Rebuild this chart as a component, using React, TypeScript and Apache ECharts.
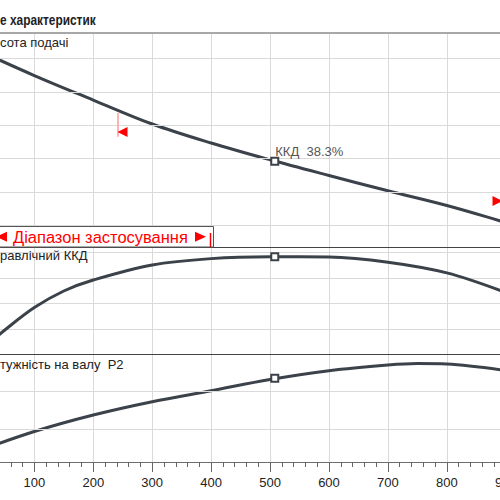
import React, { useEffect, useRef } from "react";
import * as echarts from "echarts";

// Flow (x) axis ticks
const flowTicks = [0, 100, 200, 300, 400, 500, 600, 700, 800, 900, 1000];

// Head curve ("Висота подачі")
const headFlow = [0, 100, 200, 300, 400, 500, 600, 700, 800, 900, 1000];
const headValues = [7.278, 6.486, 5.754, 5.038, 4.47, 3.968, 3.499, 3.042, 2.603, 2.096, 1.588];
const headGridLines = [2, 3, 4, 5, 6, 7];

// Hydraulic efficiency curve ("Гідравлічний ККД"), %
const effFlow = [0, 50, 100, 150, 200, 300, 400, 500, 600, 700, 800, 900];
const effValues = [0, 9.6, 18.4, 24.9, 29.2, 35.1, 37.6, 38.3, 38.2, 36.2, 32.0, 24.3];

// Shaft power curve ("Потужність на валу P2")
const powerFlow = [0, 100, 200, 300, 400, 500, 600, 700, 750, 800, 900];
const powerValues = [0.395, 0.934, 1.368, 1.718, 2.008, 2.303, 2.534, 2.684, 2.724, 2.711, 2.539];
const powerGridLines = [1, 2];

// Duty point
const dutyFlow = [508];
const dutyHead = [3.924];
const dutyEff = [38.3];
const dutyPower = [2.334];
const dutyLabel = ["ККД  38.3%"];

// Operating range markers
const rangeMinFlow = [241];
const rangeMinLine = [5.366, 4.658];
const rangeMinTriangle = [249.6, 4.8];
const rangeMaxTriangle = [886, 2.738];

const FONT = '"Liberation Sans", Arial, sans-serif';
const CURVE = "#3c424a";
const GRIDC = "#dadada";
const RED = "#ff0000";

const pairs = (xs: number[], ys: number[]) => xs.map((x, i) => [x, ys[i]]);

export default function App() {
  const ref = useRef<HTMLDivElement>(null);
  useEffect(() => {
    if (!ref.current) return;
    const chart = echarts.init(ref.current, null, { renderer: "svg" });
    const gridBase = { left: -24.6, width: 589.3, containLabel: false, outerBoundsMode: "none" } as any;
    const xBase = (gi: number, bottom: boolean) => ({
      type: "value",
      gridIndex: gi,
      min: flowTicks[0],
      max: flowTicks[flowTicks.length - 1],
      interval: 100,
      splitLine: { show: true, lineStyle: { color: GRIDC, width: 1 } },
      axisLine: { show: true, onZero: false, lineStyle: { color: bottom ? "#6e6e6e" : "#444", width: 1 } },
      axisTick: { show: bottom, length: 10, lineStyle: { color: "#666" } },
      minorTick: { show: bottom, splitNumber: 5, length: 5, lineStyle: { color: "#666" } },
      axisLabel: {
        show: bottom,
        margin: 14,
        fontSize: 13,
        color: "#222",
        fontFamily: FONT,
        showMinLabel: false,
        showMaxLabel: false,
      },
    });
    const yBase = (gi: number, min: number, max: number, interval: number, split: boolean) => ({
      type: "value",
      gridIndex: gi,
      min,
      max,
      interval,
      axisLine: { show: false },
      axisTick: { show: false },
      axisLabel: { show: false },
      splitLine: { show: split, lineStyle: { color: GRIDC, width: 1 } },
    });
    const squareItem = (x: number, y: number, label?: string) => ({
      coord: [x, y],
      symbol: "rect",
      symbolSize: 7,
      itemStyle: { color: "#fff", borderColor: CURVE, borderWidth: 2 },
      label: label
        ? { show: true, formatter: label, position: [5, -12], fontSize: 13, color: "#555", fontFamily: FONT }
        : { show: false },
    });
    const lineSeries = (i: number, data: number[][], extra: any) => ({
      type: "line",
      xAxisIndex: i,
      yAxisIndex: i,
      data,
      smooth: 0.35,
      symbol: "none",
      showSymbol: false,
      lineStyle: { color: CURVE, width: 3 },
      z: 3,
      ...extra,
    });
    const gridLineSeries = (i: number, values: number[]) => ({
      type: "line",
      xAxisIndex: i,
      yAxisIndex: i,
      data: [],
      z: 1,
      silent: true,
      markLine: {
        silent: true,
        symbol: ["none", "none"],
        label: { show: false },
        lineStyle: { color: GRIDC, width: 1, type: "solid" },
        data: values.map((v) => ({ yAxis: v })),
      },
    });

    chart.setOption({
      animation: false,
      grid: [
        { ...gridBase, top: 33, height: 214 },
        { ...gridBase, top: 247, height: 107.5 },
        { ...gridBase, top: 354.5, height: 107.5 },
      ],
      xAxis: [xBase(0, false), xBase(1, false), xBase(2, true)],
      yAxis: [
        yBase(0, 1.364, 7.756, 1, false),
        yBase(1, 0, 42.16, 10, true),
        yBase(2, 0.132, 2.961, 1, false),
      ],
      series: [
        gridLineSeries(0, headGridLines),
        gridLineSeries(2, powerGridLines),
        lineSeries(0, pairs(headFlow, headValues), {
          markLine: {
            silent: true,
            symbol: ["none", "none"],
            label: { show: false },
            lineStyle: { color: "#ff9a9a", width: 1.5, type: "solid" },
            data: [[{ coord: [rangeMinFlow[0], rangeMinLine[0]] }, { coord: [rangeMinFlow[0], rangeMinLine[1]] }]],
          },
          markPoint: {
            silent: true,
            data: [
              squareItem(dutyFlow[0], dutyHead[0], dutyLabel[0]),
              {
                coord: rangeMinTriangle,
                symbol: "triangle",
                symbolSize: [10, 10],
                symbolRotate: 90,
                itemStyle: { color: RED },
                label: { show: false },
              },
              {
                coord: rangeMaxTriangle,
                symbol: "triangle",
                symbolSize: [10, 10],
                symbolRotate: -90,
                itemStyle: { color: RED },
                label: { show: false },
              },
            ],
          },
        }),
        lineSeries(1, pairs(effFlow, effValues), {
          markPoint: { silent: true, data: [squareItem(dutyFlow[0], dutyEff[0])] },
        }),
        lineSeries(2, pairs(powerFlow, powerValues), {
          markPoint: { silent: true, data: [squareItem(dutyFlow[0], dutyPower[0])] },
        }),
      ],
      graphic: [
        {
          type: "line",
          z: 20,
          shape: { x1: 0, y1: 33, x2: 500, y2: 33 },
          style: { stroke: "#a8a8a8", lineWidth: 2 },
        },
        {
          type: "text",
          z: 20,
          x: 0,
          y: 20.5,
          scaleX: 0.85,
          style: { text: "е характеристик", font: `bold 14px ${FONT}`, fill: "#222", textVerticalAlign: "middle", verticalAlign: "middle" },
        },
        {
          type: "text",
          z: 20,
          x: 0,
          y: 42.5,
          style: { text: "сота подачі", font: `13px ${FONT}`, fill: "#222", textVerticalAlign: "middle", verticalAlign: "middle" },
        },
        {
          type: "rect",
          z: 20,
          shape: { x: -5, y: 226.5, width: 218.5, height: 20.5 },
          style: { fill: "#fff", stroke: "#555", lineWidth: 1 },
        },
        {
          type: "line",
          z: 21,
          shape: { x1: 210.5, y1: 233, x2: 210.5, y2: 247 },
          style: { stroke: RED, lineWidth: 1.5 },
        },
        {
          type: "polygon",
          z: 21,
          shape: { points: [[-4, 236.7], [7, 231.7], [7, 241.7]] },
          style: { fill: RED },
        },
        {
          type: "text",
          z: 21,
          x: 13,
          y: 237,
          scaleX: 1.03,
          style: { text: "Діапазон застосування", font: `16px ${FONT}`, fill: RED, textVerticalAlign: "middle", verticalAlign: "middle" },
        },
        {
          type: "polygon",
          z: 21,
          shape: { points: [[195, 231.7], [206, 236.7], [195, 241.7]] },
          style: { fill: RED },
        },
        {
          type: "text",
          z: 20,
          x: 0,
          y: 255.5,
          style: { text: "равлічний ККД", font: `13px ${FONT}`, fill: "#222", textVerticalAlign: "middle", verticalAlign: "middle" },
        },
        {
          type: "text",
          z: 20,
          x: 0,
          y: 364,
          style: { text: "тужність на валу  P2", font: `13px ${FONT}`, fill: "#222", textVerticalAlign: "middle", verticalAlign: "middle" },
        },
      ],
    });
    return () => chart.dispose();
  }, []);
  return <div ref={ref} style={{ position: "absolute", left: 0, top: 0, width: 500, height: 500 }} />;
}
